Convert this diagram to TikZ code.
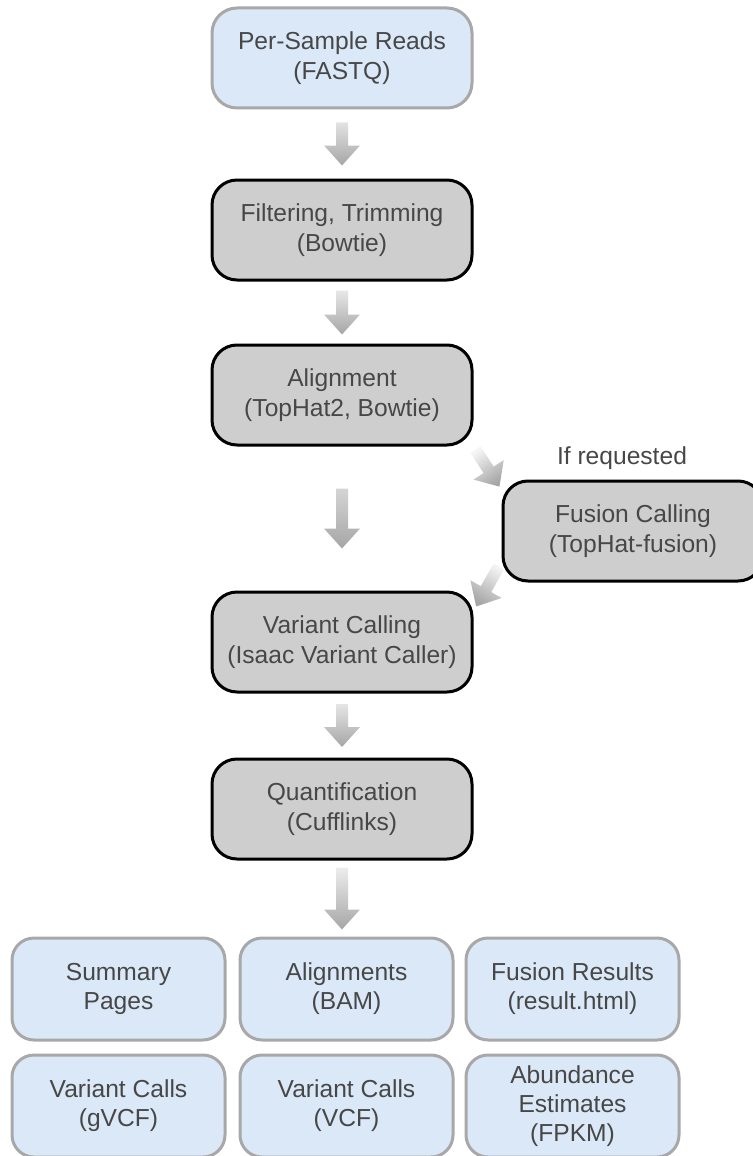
\documentclass[tikz,border=0pt]{standalone}
\usepackage{fontspec}
\setmainfont{Liberation Sans}
\usetikzlibrary{calc}

\definecolor{boxblue}{HTML}{DAE8F8}
\definecolor{boxgray}{HTML}{CECECE}
\definecolor{boxedge}{HTML}{A8A8A8}

\begin{document}
\begin{tikzpicture}[x = 0.5pt, y = -0.5pt,
        box/.style = {rounded corners = 12.5pt, line width = 1.5pt,
            minimum width = 130pt, minimum height = 50pt, align = center,
            text = black!72, font = \fontsize{12.3}{15}\selectfont},
        input/.style = {box, draw = boxedge, fill = boxblue},
        tool/.style = {box, draw = black, fill = boxgray},
        output/.style = {input, minimum width = 106.5pt, minimum height = 51pt,
            rounded corners = 11pt, font = \fontsize{12.3}{14.5}\selectfont},
        arrowfill/.style = {top color = gray!8, bottom color = gray!70},
        fatarrow/.style = {to path = {
            let \p1 = (\tikztostart), \p2 = (\tikztotarget),
                \n1 = {atan2(\y2 - \y1, \x2 - \x1)},
                \p3 = ($ (\p1)!0.5!(\p2) $) in
            ($ (\p3) + (\n1:-#1) + (\n1 + 90:3pt) $)
            -- ($ (\p3) + (\n1:#1 - 10pt) + (\n1 + 90:3pt) $)
            -- ($ (\p3) + (\n1:#1 - 10pt) + (\n1 + 90:9pt) $)
            -- ($ (\p3) + (\n1:#1) $)
            -- ($ (\p3) + (\n1:#1 - 10pt) + (\n1 - 90:9pt) $)
            -- ($ (\p3) + (\n1:#1 - 10pt) + (\n1 - 90:3pt) $)
            -- ($ (\p3) + (\n1:-#1) + (\n1 - 90:3pt) $) -- cycle}}]
        \useasboundingbox (0, 0) rectangle (752, 1156);
        \node[input] at (342, 58) (reads) {Per-Sample Reads\\(FASTQ)};
        \node[tool] at (342, 230) (filter) {Filtering, Trimming\\(Bowtie)};
        \node[tool] at (342, 395) (align) {Alignment\\(TopHat2, Bowtie)};
        \node[tool] at (633, 531) (fusion) {Fusion Calling\\(TopHat-fusion)};
        \node[text = black!72, font = \fontsize{12.3}{15}\selectfont]
            at (622, 458) (note) {If requested};
        \node[tool] at (342, 642) (variant) {Variant Calling\\(Isaac Variant Caller)};
        \node[tool] at (342, 809) (quant) {Quantification\\(Cufflinks)};
        \node[output] at (118.5, 989) (summary) {Summary\\Pages};
        \node[output] at (346.5, 989) (bam) {Alignments\\(BAM)};
        \node[output] at (572.5, 989) (fusionres) {Fusion Results\\(result.html)};
        \node[output] at (118.5, 1106) (gvcf) {Variant Calls\\(gVCF)};
        \node[output] at (346.5, 1106) (vcf) {Variant Calls\\(VCF)};
        \node[output] at (572.5, 1106) (fpkm) {Abundance\\Estimates\\(FPKM)};
        \shade[arrowfill] (reads.south) to[fatarrow = 10.75pt] (filter.north);
        \shade[arrowfill] (filter.south) to[fatarrow = 11pt] (align.north);
        \shade[arrowfill] (align.south) to[fatarrow = 15pt] (variant.north);
        \shade[arrowfill, shading angle = 35]
            (align.south east)
            to[fatarrow = 11pt] ($ (fusion.north west)!0.1!(fusion.south west) $);
        \shade[arrowfill, shading angle = -32]
            ($ (fusion.south west)!0.2!(fusion.north west) $)
            to[fatarrow = 11.5pt] ($ (variant.north east)!0.2!(variant.south east) $);
        \shade[arrowfill] (variant.south) to[fatarrow = 10.75pt] (quant.north);
        \shade[arrowfill] (quant.south) to[fatarrow = 15.5pt] (quant.south |- bam.north);
    \end{tikzpicture}
\end{document}
